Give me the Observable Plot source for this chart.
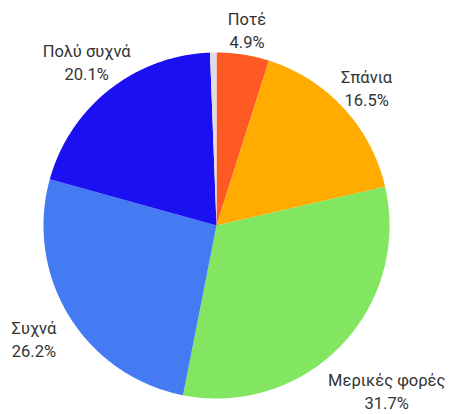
<!DOCTYPE html>
<html><head><meta charset="utf-8">
<script src="https://cdn.jsdelivr.net/npm/d3@7"></script>
<script src="https://cdn.jsdelivr.net/npm/@observablehq/plot@0.6"></script>
<style>html,body{margin:0;padding:0;background:#fff;}</style>
</head><body><div id="chart"></div>
<script>
// Data (clockwise from 12 o'clock)
const categories = ["Ποτέ", "Σπάνια", "Μερικές φορές", "Συχνά", "Πολύ συχνά", ""];
const values = [4.9, 16.5, 31.7, 26.2, 20.1, 0.6];
const percentLabels = ["4.9%", "16.5%", "31.7%", "26.2%", "20.1%", ""];
const colors = ["#FF5A24", "#FFAB00", "#82E660", "#447BF2", "#1A10F2", "#DCDCEA"];

// Layout constants
const W = 451, H = 414, cx = 216, cy = 225, R = 173;
const labelRadius = [1.15, 1.18, 1.37, 1.24, 1.21, 1.2];

const rows = categories.map((c, i) => ({category: c, value: values[i], pct: percentLabels[i], color: colors[i], idx: i}));
const arcs = d3.pie().sort(null).value(d => d.value)(rows);

function slice(a) {
  const span = a.endAngle - a.startAngle;
  const n = Math.max(2, Math.ceil(span / 0.005));
  const ring = [[0, 0]];
  for (let k = 0; k <= n; k++) {
    const t = a.startAngle + span * k / n;
    ring.push([Math.sin(t), -Math.cos(t)]);
  }
  ring.push([0, 0]);
  return {type: "Feature", properties: a.data, geometry: {type: "Polygon", coordinates: [ring]}};
}
const features = arcs.map(slice);

const labels = arcs.filter(a => a.data.category !== "").map(a => {
  const m = (a.startAngle + a.endAngle) / 2;
  const r = labelRadius[a.data.idx];
  return {x: r * Math.sin(m), y: -r * Math.cos(m), text: a.data.category + "\n" + a.data.pct};
});

const x0 = -cx / R, x1 = (W - cx) / R, y0 = -cy / R, y1 = (H - cy) / R;
const frame = {type: "Polygon", coordinates: [[[x0, y0], [x0, y1], [x1, y1], [x1, y0], [x0, y0]]]};

const chart = Plot.plot({
  width: W,
  height: H,
  margin: 0,
  style: {fontFamily: "Roboto, sans-serif", background: "#fff"},
  projection: {type: "identity", domain: frame, inset: 0},
  color: {type: "identity"},
  marks: [
    Plot.geo(features, {fill: d => d.properties.color, stroke: "none"}),
    Plot.text(labels, {x: "x", y: "y", text: "text", fontSize: 16.5, lineHeight: 1.38, fill: "#333", textAnchor: "middle"})
  ]
});
document.getElementById("chart").appendChild(chart);
</script>
</body></html>
